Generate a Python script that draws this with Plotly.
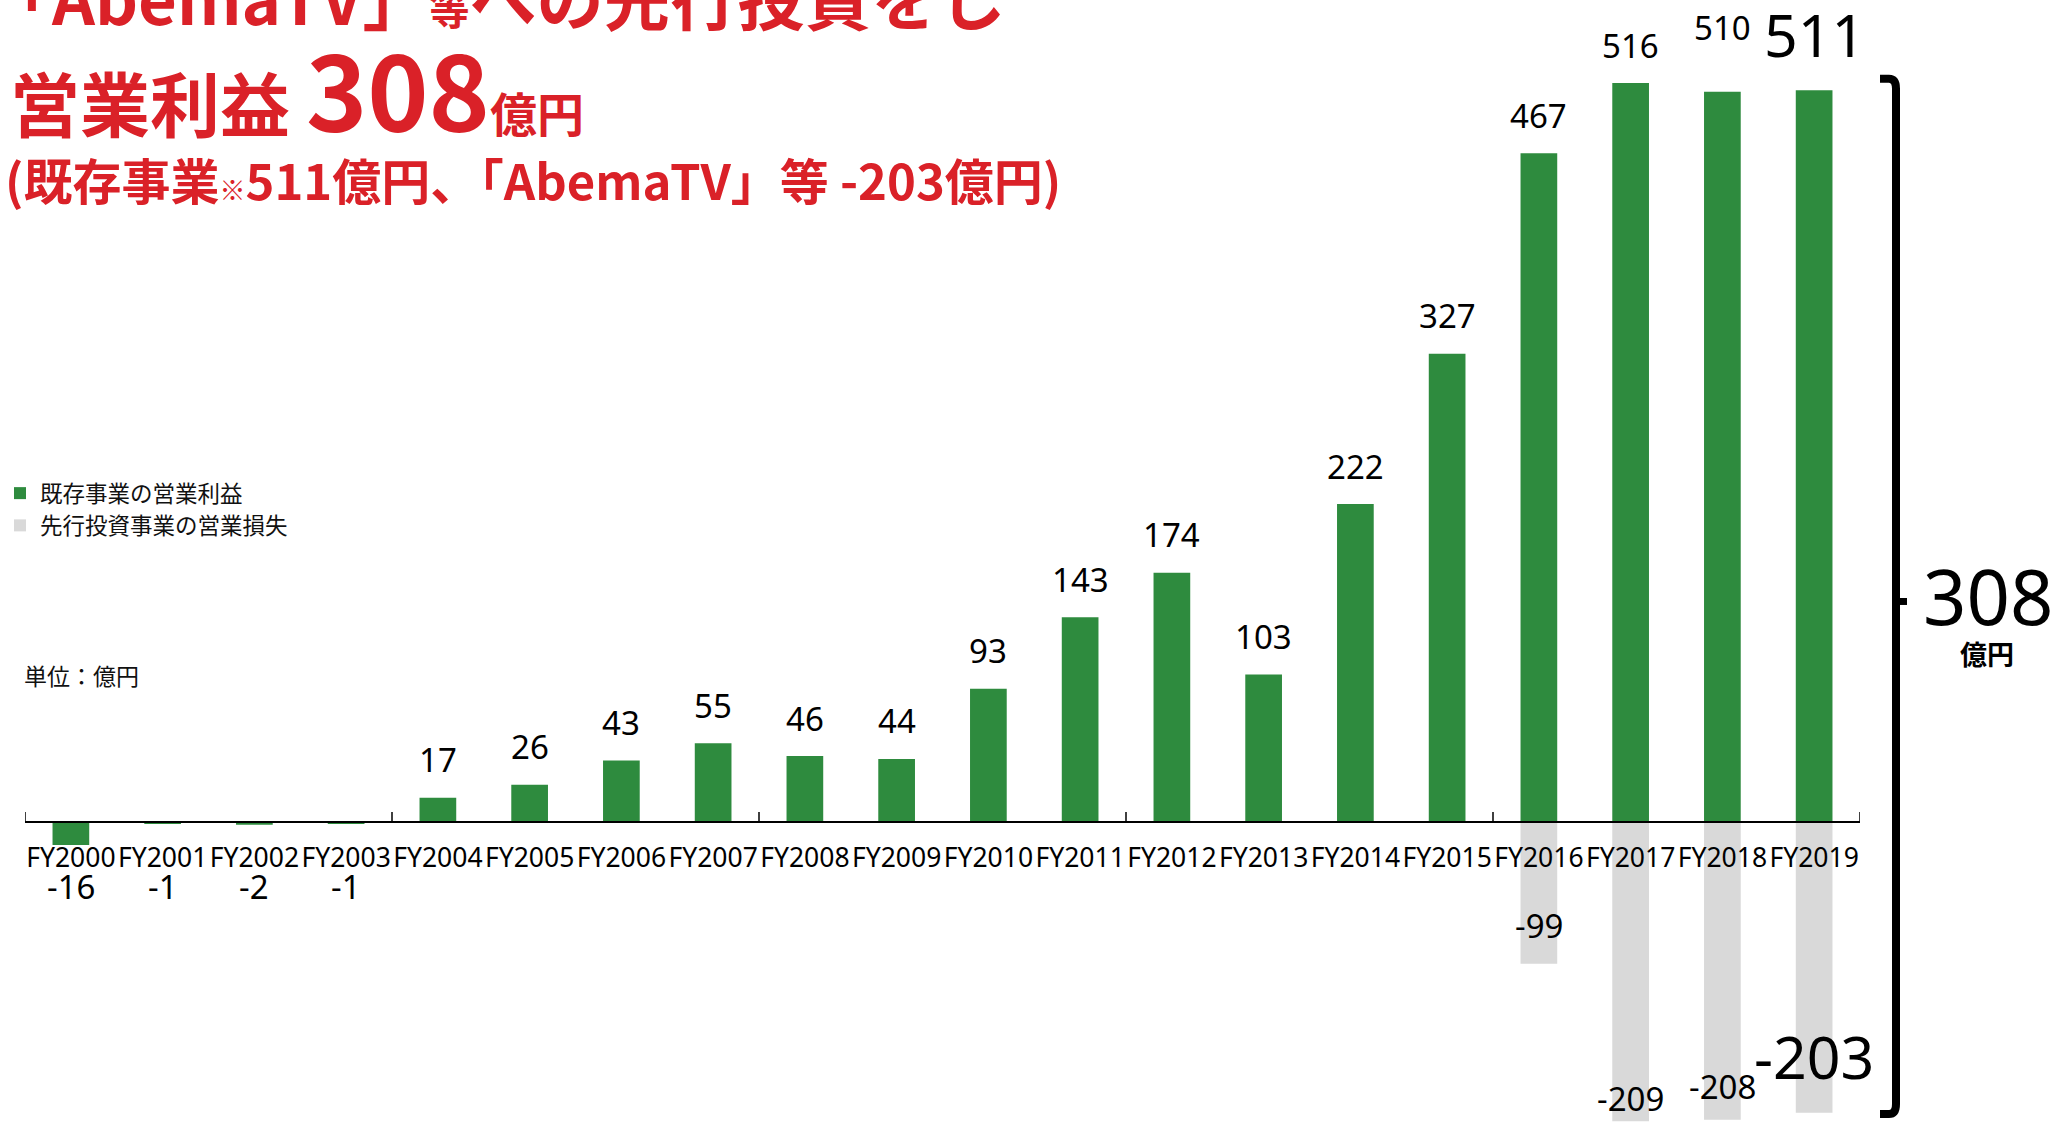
import plotly.graph_objects as go

# ---------------- data ----------------
categories = ["FY2000", "FY2001", "FY2002", "FY2003", "FY2004", "FY2005", "FY2006",
              "FY2007", "FY2008", "FY2009", "FY2010", "FY2011", "FY2012", "FY2013",
              "FY2014", "FY2015", "FY2016", "FY2017", "FY2018", "FY2019"]
existing_profit = [-16, -1, -2, -1, 17, 26, 43, 55, 46, 44, 93, 143, 174, 103,
                   222, 327, 467, 516, 510, 511]
investment_loss = [None] * 16 + [-99, -209, -208, -203]
series_names = ["既存事業の営業利益", "先行投資事業の営業損失"]

total_latest = existing_profit[-1] + investment_loss[-1]  # 308

# ---------------- layout helpers ----------------
W, H = 2058, 1122
ML, MR = 25, 198
PW = W - ML - MR
PPU = 1.432
Y_MIN = -209.5
Y_MAX = Y_MIN + H / PPU
ZERO_FRAC = (0 - Y_MIN) / (Y_MAX - Y_MIN)

def px_x(px):
    return (px - ML) / PW

def px_y(py):
    return 1 - py / H

GREEN = "#2e8b3e"
GRAY = "#d9d9d9"
RED = "#da2128"
NUM_FONT = "Noto Sans, Noto Sans CJK JP"
JP_FONT = "Noto Sans CJK JP"

fig = go.Figure()
fig.add_trace(go.Bar(x=categories, y=existing_profit, name=series_names[0],
                     marker=dict(color=GREEN, line=dict(width=0)), width=0.4))
fig.add_trace(go.Bar(x=categories, y=investment_loss, name=series_names[1],
                     marker=dict(color=GRAY, line=dict(width=0)), width=0.4))

annotations = []
shapes = []

# value labels for existing business
for i, v in enumerate(existing_profit):
    size = 33
    if v >= 0:
        y, shift = v, 38
        if i == len(existing_profit) - 2:
            shift = 64
        if i == len(existing_profit) - 1:
            shift, size = 56, 59
    else:
        y, shift = 0, -64
    annotations.append(dict(x=categories[i], y=y, xref="x", yref="y", text=str(v),
                            showarrow=False, yanchor="middle", yshift=shift,
                            font=dict(family=NUM_FONT, size=size, color="#000")))

# value labels for investment losses
loss_shift = {16: 38, 17: 23, 18: 33, 19: 57}
for i, v in enumerate(investment_loss):
    if v is None:
        continue
    size = 59 if i == len(investment_loss) - 1 else 33
    annotations.append(dict(x=categories[i], y=v, xref="x", yref="y", text=str(v),
                            showarrow=False, yanchor="middle", yshift=loss_shift[i],
                            font=dict(family=NUM_FONT, size=size, color="#000")))

# tick marks every 4 categories on boundaries
for b in range(0, len(categories) + 1, 4):
    shapes.append(dict(type="line", xref="x", yref="y", x0=b - 0.5, x1=b - 0.5,
                       ysizemode="pixel", yanchor=0, y0=0, y1=10,
                       line=dict(color="#000", width=1.5)))

# bracket on the right
top = existing_profit[-1] + 8
bot = investment_loss[-1] - 1
mid = (existing_profit[-1] + investment_loss[-1]) / 2
xv = px_x(1896)
xh = px_x(1880)
xs = px_x(1907)
r = 7
bracket = (f"M {xh},{top} L {px_x(1889)},{top} Q {xv},{top} {xv},{top - r} "
           f"L {xv},{bot + r} Q {xv},{bot} {px_x(1889)},{bot} L {xh},{bot}")
shapes.append(dict(type="path", xref="paper", yref="y", path=bracket,
                   line=dict(color="#000", width=8)))
shapes.append(dict(type="path", xref="paper", yref="y",
                   path=f"M {xv},{mid} L {xs},{mid}",
                   line=dict(color="#000", width=7)))

annotations.append(dict(x=px_x(1988), y=mid, xref="paper", yref="y",
                        text=str(total_latest), showarrow=False,
                        xanchor="center", yanchor="middle", yshift=6,
                        font=dict(family=NUM_FONT, size=76, color="#000")))
annotations.append(dict(x=px_x(1987), y=mid, xref="paper", yref="y",
                        text="<b>億円</b>", showarrow=False,
                        xanchor="center", yanchor="middle", yshift=-52,
                        font=dict(family=JP_FONT, size=27, color="#000")))

# headline texts
annotations.append(dict(x=px_x(-17), y=px_y(-5), xref="paper", yref="paper",
                        text="<b>「AbemaTV」<span style='font-size:40px'>等</span>への先行投資をし</b>",
                        showarrow=False, xanchor="left", yanchor="middle",
                        font=dict(family=JP_FONT, size=67, color=RED)))
annotations.append(dict(x=px_x(8), y=px_y(87), xref="paper", yref="paper",
                        text=f"<b>営業利益 <span style='font-size:104px'>{total_latest}</span>"
                             f"<span style='font-size:47px'>億円</span></b>",
                        showarrow=False, xanchor="left", yanchor="middle",
                        font=dict(family=JP_FONT, size=70, color=RED)))
annotations.append(dict(x=px_x(3), y=px_y(178), xref="paper", yref="paper",
                        text=f"<b>(既存事業<span style='font-size:26px'>※</span>{existing_profit[-1]}億円、"
                             f"「AbemaTV」等 {investment_loss[-1]}億円)</b>",
                        showarrow=False, xanchor="left", yanchor="middle",
                        font=dict(family=JP_FONT, size=49, color=RED)))

# unit label
annotations.append(dict(x=px_x(22), y=px_y(675), xref="paper", yref="paper",
                        text="単位：億円", showarrow=False, xanchor="left", yanchor="middle",
                        font=dict(family=JP_FONT, size=23, color="#111")))

fig.update_layout(
    width=W, height=H,
    margin=dict(l=ML, r=MR, t=0, b=0, pad=0, autoexpand=False),
    paper_bgcolor="white", plot_bgcolor="white",
    barmode="relative",
    showlegend=True,
    legend=dict(xref="container", yref="container", x=0.0, y=px_y(472),
                xanchor="left", yanchor="top",
                font=dict(family=JP_FONT, size=22.5, color="#111"),
                bgcolor="rgba(0,0,0,0)", tracegroupgap=0, traceorder="normal"),
    xaxis=dict(type="category", anchor="free", position=ZERO_FRAC,
               showline=True, linecolor="#000", linewidth=1.5,
               ticks="", showgrid=False, zeroline=False, tickangle=0,
               tickfont=dict(family=NUM_FONT, size=26.5, color="#000"),
               ticklabelstandoff=12, range=[-0.5, len(categories) - 0.5]),
    yaxis=dict(visible=False, range=[Y_MIN, Y_MAX], showgrid=False, zeroline=False),
    annotations=annotations,
    shapes=shapes,
)

fig.write_html("out.html", config={"displayModeBar": False},
               post_script="document.body.style.margin='0';document.body.style.overflow='hidden';")
